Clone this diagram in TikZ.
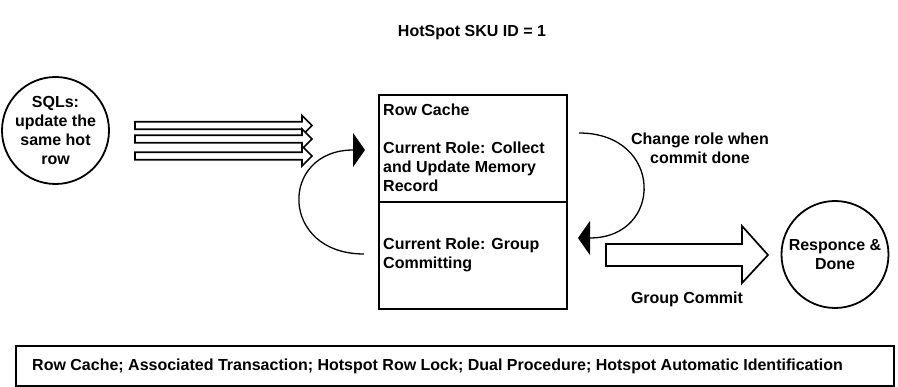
\documentclass[tikz,border=0pt]{standalone}
\usepackage{fontspec}
\setmainfont{Liberation Sans}
\usetikzlibrary{arrows.meta}
\begin{document}
\begin{tikzpicture}[x=1pt,y=-1pt,
  every node/.style={font=\fontsize{16}{19}\selectfont\bfseries, inner sep=0pt},
  boxpart/.style={draw, line width=2pt, minimum width=188pt, minimum height=107pt, anchor=north west},
  roundnode/.style={draw, circle, line width=1.8pt, minimum size=107pt, align=center},
  hollow/.style={draw, fill=white, line width=1.7pt, line join=miter},
  loop/.style={line width=1.3pt, -{Triangle[length=12pt,width=34pt]}},
  txt/.style={align=left, anchor=west}]
\useasboundingbox (0,0) rectangle (898,387);
\fill[white] (0,0) rectangle (898,387);

% title
\node (title) at (472,33) {HotSpot SKU ID = 1};

% left circle
\node[roundnode] (sql) at (55.5,130.5) {SQLs:\\update the\\same hot\\row};

% three hollow arrows
\foreach \c in {125.5,139,156}{
  \draw[hollow] (135,\c-3.8) -- (302,\c-3.8) -- (302,\c-10) -- (312,\c) -- (302,\c+10) -- (302,\c+3.8) -- (135,\c+3.8) -- cycle;
}

% central box
\node[boxpart] (top) at (378,94) {};
\node[boxpart] (bot) at (378,201) {};
\node[txt] (rc) at (383,110) {Row Cache};
\node[txt] (role1) at (383,167) {Current Role: Collect\\and Update Memory\\Record};
\node[txt] (role2) at (383,254.5) {Current Role: Group\\Committing};

% loops
\coordinate (lstart) at (364,254);
\coordinate (lend) at (365,150);
\draw[loop] (lstart) .. controls (279,254) and (279,150) .. (lend);

\coordinate (rstart) at (579,133);
\coordinate (rend) at (578,238);
\draw[loop] (rstart) .. controls (664,133) and (664,238) .. (rend);

\node[align=center] (chg) at (700,148) {Change role when\\commit done};

% big hollow arrow
\draw[hollow] (606,244) -- (742,244) -- (742,226) -- (768,255) -- (742,283) -- (742,266) -- (606,266) -- cycle;
\node (gc) at (687,299) {Group Commit};

% right circle
\node[roundnode] (done) at (835,254.5) {Responce \&\\Done};

% bottom bar
\node[draw, line width=2pt, minimum width=878pt, minimum height=40pt, anchor=north west] (bar) at (15,345) {};
\node[anchor=west] (bartxt) at (32,366) {Row Cache; Associated Transaction; Hotspot Row Lock; Dual Procedure; Hotspot Automatic Identification};
\end{tikzpicture}
\end{document}
